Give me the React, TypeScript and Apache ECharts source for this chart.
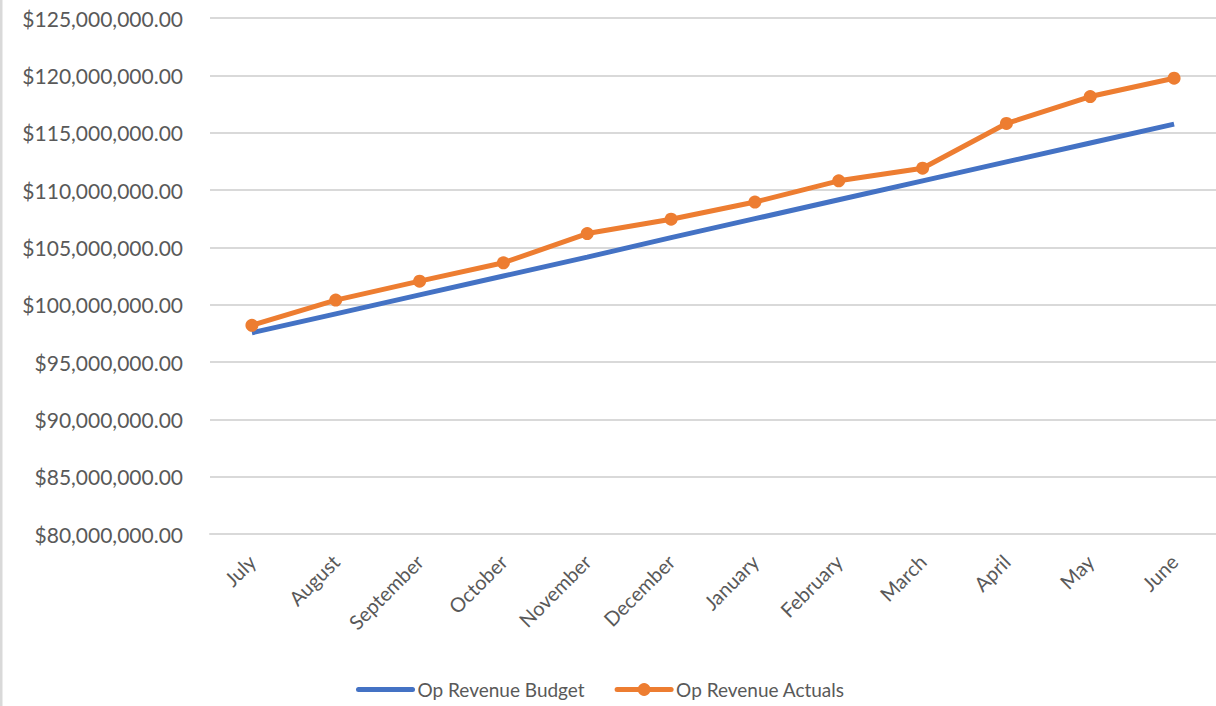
import React, { useEffect, useRef } from "react";
import * as echarts from "echarts";

const months = ["July", "August", "September", "October", "November", "December", "January", "February", "March", "April", "May", "June"];
const budget = [97.55, 99.2, 100.85, 102.5, 104.15, 105.85, 107.5, 109.15, 110.8, 112.45, 114.1, 115.75].map((v) => v * 1e6);
const actuals = [98.2, 100.4, 102.05, 103.65, 106.2, 107.45, 108.95, 110.8, 111.9, 115.8, 118.15, 119.75].map((v) => v * 1e6);
const yMin = 80e6;
const yMax = 125e6;
const yStep = 5e6;

const FONT = "Lato, 'Open Sans', sans-serif";
const TXT = "#595959";

function fmt(v: number): string {
  return "$" + v.toLocaleString("en-US", { minimumFractionDigits: 2, maximumFractionDigits: 2 });
}

export default function App() {
  const ref = useRef<HTMLDivElement>(null);
  useEffect(() => {
    if (!ref.current) return;
    const chart = echarts.init(ref.current, null, { renderer: "svg" });
    chart.setOption({
      animation: false,
      backgroundColor: "#ffffff",
      textStyle: { fontFamily: FONT },
      grid: { left: 210, top: 18, width: 1008, height: 516, containLabel: false },
      graphic: [
        { type: "rect", left: 0, top: 0, shape: { x: 0, y: 0, width: 2.5, height: 706 }, style: { fill: "#d9d9d9" } },
      ],
      legend: {
        left: 351,
        top: 675,
        itemWidth: 54,
        itemHeight: 16,
        itemGap: 30,
        textStyle: { fontFamily: FONT, fontSize: 19, color: TXT },
        data: [
          { name: "Op Revenue Budget", itemStyle: { opacity: 0 }, lineStyle: { width: 5, color: "#4472C4", cap: "round" } },
          { name: "Op Revenue Actuals", lineStyle: { width: 5, color: "#ED7D31", cap: "round" } },
        ],
      },
      xAxis: {
        type: "category",
        data: months,
        boundaryGap: true,
        axisLine: { show: true, lineStyle: { color: "#d9d9d9", width: 2 } },
        axisTick: { show: false },
        axisLabel: { rotate: 45, margin: 24, fontFamily: FONT, fontSize: 20, color: TXT },
      },
      yAxis: {
        type: "value",
        min: yMin,
        max: yMax,
        interval: yStep,
        axisLine: { show: false },
        axisTick: { show: false },
        splitLine: { lineStyle: { color: "#d9d9d9", width: 2 } },
        axisLabel: { margin: 27, fontFamily: FONT, fontSize: 21, color: TXT, formatter: (v: number) => fmt(v) },
      },
      series: [
        {
          name: "Op Revenue Budget",
          type: "line",
          data: budget,
          symbol: "none",
          lineStyle: { color: "#4472C4", width: 5 },
          itemStyle: { color: "#4472C4" },
        },
        {
          name: "Op Revenue Actuals",
          type: "line",
          data: actuals,
          symbol: "circle",
          symbolSize: 13,
          lineStyle: { color: "#ED7D31", width: 5 },
          itemStyle: { color: "#ED7D31" },
        },
      ],
    });
    return () => chart.dispose();
  }, []);
  return <div ref={ref} style={{ position: "fixed", left: 0, top: 0, width: 1216, height: 706 }} />;
}
